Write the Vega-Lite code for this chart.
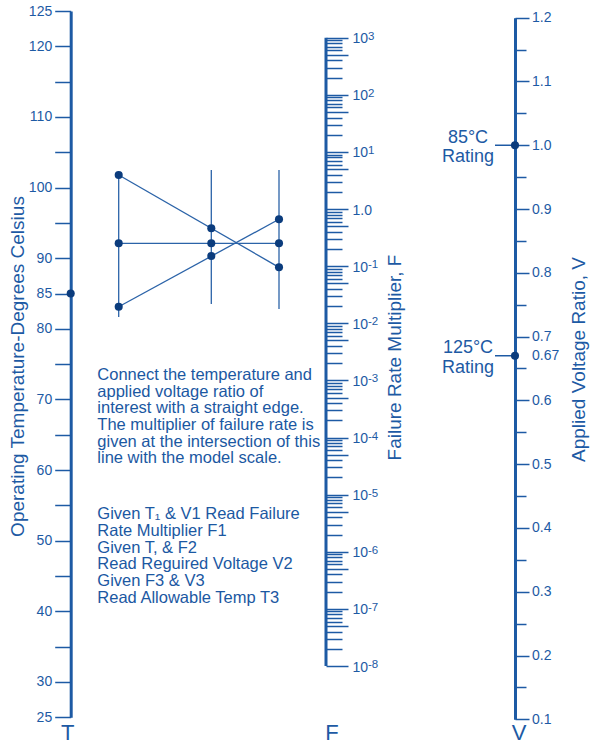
{
  "$schema": "https://vega.github.io/schema/vega-lite/v6.json",
  "width": 590,
  "height": 744,
  "autosize": {"type": "none"},
  "padding": 0,
  "background": "white",
  "config": {
    "view": {"stroke": null},
    "font": "Liberation Sans",
    "axis": {
      "grid": false,
      "labelFont": "Liberation Sans",
      "titleFont": "Liberation Sans",
      "labelFontSize": 14,
      "labelColor": "#1d5aa4",
      "tickColor": "#1d5aa4",
      "domainColor": "#1d5aa4",
      "titleColor": "#1d5aa4",
      "titleFontWeight": "normal",
      "titleFontSize": 19,
      "tickWidth": 1.5,
      "domainWidth": 3,
      "labelOverlap": false,
      "labelFlush": false,
      "labelBound": false
    }
  },
  "encoding": {
    "x": {"field": "x", "type": "quantitative", "scale": {"domain": [0, 590], "nice": false, "zero": false}, "axis": null}
  },
  "layer": [
    {
      "data": {"values": [{"x": 70.7, "t": 85}]},
      "mark": {"type": "point", "filled": true, "size": 65, "color": "#0b3c7d", "opacity": 1},
      "encoding": {
        "y": {
          "field": "t", "type": "quantitative",
          "scale": {"type": "linear", "domain": [25, 125], "range": [717.3, 11], "nice": false, "zero": false},
          "axis": {
            "orient": "left", "offset": -70.7,
            "values": [25, 30, 35, 40, 45, 50, 55, 60, 65, 70, 75, 80, 85, 90, 95, 100, 105, 110, 115, 120, 125],
            "labelExpr": "indexof([125,120,110,100,90,85,80,70,60,50,40,30,25], datum.value) >= 0 ? datum.label : ''",
            "tickSize": 16, "labelPadding": 3,
            "title": "Operating Temperature-Degrees Celsius",
            "titleAngle": 270, "titleX": -46.7, "titleY": 366,
            "titleAlign": "center", "titleBaseline": "alphabetic"
          }
        }
      }
    },
    {
      "data": {"values": [
        {"x": 118.7, "x2": 118.7, "t": 101.78, "t2": 81.68},
        {"x": 211.3, "x2": 211.3, "t": 102.49, "t2": 83.52},
        {"x": 279, "x2": 279, "t": 102.49, "t2": 82.81},
        {"x": 118.7, "x2": 279, "t": 101.78, "t2": 88.71},
        {"x": 118.7, "x2": 279, "t": 92.11, "t2": 92.11},
        {"x": 118.7, "x2": 279, "t": 83.13, "t2": 95.51}
      ]},
      "mark": {"type": "rule", "strokeWidth": 1.3, "color": "#2b63a8"},
      "encoding": {
        "x2": {"field": "x2"},
        "y": {"field": "t", "type": "quantitative", "scale": {"type": "linear", "domain": [25, 125], "range": [717.3, 11], "nice": false, "zero": false}, "axis": null},
        "y2": {"field": "t2"}
      }
    },
    {
      "data": {"values": [
        {"x": 118.7, "t": 101.78}, {"x": 118.7, "t": 92.11}, {"x": 118.7, "t": 83.13},
        {"x": 211.3, "t": 94.23}, {"x": 211.3, "t": 92.11}, {"x": 211.3, "t": 90.31},
        {"x": 279, "t": 95.51}, {"x": 279, "t": 92.11}, {"x": 279, "t": 88.71}
      ]},
      "mark": {"type": "point", "filled": true, "size": 65, "color": "#0b3c7d", "opacity": 1},
      "encoding": {
        "y": {"field": "t", "type": "quantitative", "scale": {"type": "linear", "domain": [25, 125], "range": [717.3, 11], "nice": false, "zero": false}, "axis": null}
      }
    },
    {
      "data": {"values": [
        {"x": 97.3, "t": 72.756, "text": "Connect the temperature and"},
        {"x": 97.3, "t": 70.392, "text": "applied voltage ratio of"},
        {"x": 97.3, "t": 68.041, "text": "interest with a straight edge."},
        {"x": 97.3, "t": 65.677, "text": "The multiplier of failure rate is"},
        {"x": 97.3, "t": 63.312, "text": "given at the intersection of this"},
        {"x": 97.3, "t": 60.962, "text": "line with the model scale."},
        {"x": 97.3, "t": 53.033, "text": "Given T₁ & V1 Read Failure"},
        {"x": 97.3, "t": 50.669, "text": "Rate Multiplier F1"},
        {"x": 97.3, "t": 48.305, "text": "Given T, & F2"},
        {"x": 97.3, "t": 45.954, "text": "Read Reguired Voltage V2"},
        {"x": 97.3, "t": 43.59, "text": "Given F3 & V3"},
        {"x": 97.3, "t": 41.225, "text": "Read Allowable Temp T3"}
      ]},
      "mark": {"type": "text", "align": "left", "baseline": "alphabetic", "fontSize": 16.5, "font": "Liberation Sans", "color": "#1b58a2"},
      "encoding": {
        "y": {"field": "t", "type": "quantitative", "scale": {"type": "linear", "domain": [25, 125], "range": [717.3, 11], "nice": false, "zero": false}, "axis": null},
        "text": {"field": "text"}
      }
    },
    {
      "data": {"values": [
        {"x": 67.7, "t": 21.85, "text": "T"},
        {"x": 332, "t": 21.85, "text": "F"},
        {"x": 519, "t": 21.85, "text": "V"}
      ]},
      "mark": {"type": "text", "align": "center", "baseline": "alphabetic", "fontSize": 22, "font": "Liberation Sans", "color": "#1d5aa4"},
      "encoding": {
        "y": {"field": "t", "type": "quantitative", "scale": {"type": "linear", "domain": [25, 125], "range": [717.3, 11], "nice": false, "zero": false}, "axis": null},
        "text": {"field": "text"}
      }
    },
    {
      "data": {"values": [{"x": 326, "f": 1e-8, "f2": 1000}]},
      "mark": {"type": "rule", "strokeWidth": 3, "color": "#1d5aa4"},
      "encoding": {
        "y": {
          "field": "f", "type": "quantitative",
          "scale": {"type": "log", "domain": [1e-8, 1000], "range": [666, 37.7], "nice": false},
          "axis": {
            "orient": "right", "offset": -264,
            "values": [2e-8, 3e-8, 4e-8, 6e-8, 7e-8, 8e-8, 9e-8,
                       2e-7, 3e-7, 4e-7, 6e-7, 7e-7, 8e-7, 9e-7,
                       2e-6, 3e-6, 4e-6, 6e-6, 7e-6, 8e-6, 9e-6,
                       2e-5, 3e-5, 4e-5, 6e-5, 7e-5, 8e-5, 9e-5,
                       2e-4, 3e-4, 4e-4, 6e-4, 7e-4, 8e-4, 9e-4,
                       2e-3, 3e-3, 4e-3, 6e-3, 7e-3, 8e-3, 9e-3,
                       2e-2, 3e-2, 4e-2, 6e-2, 7e-2, 8e-2, 9e-2,
                       0.2, 0.3, 0.4, 0.6, 0.7, 0.8, 0.9,
                       2, 3, 4, 6, 7, 8, 9,
                       20, 30, 40, 60, 70, 80, 90,
                       200, 300, 400, 600, 700, 800, 900],
            "tickSize": 16, "labels": false, "domain": false,
            "title": "Failure Rate Multiplier, F",
            "titleAngle": 270, "titleX": 74, "titleY": 357,
            "titleAlign": "center", "titleBaseline": "alphabetic"
          }
        },
        "y2": {"field": "f2"}
      }
    },
    {
      "data": {"values": [
        {"x": 368, "f": 1000, "e": "3"},
        {"x": 368, "f": 100, "e": "2"},
        {"x": 368, "f": 10, "e": "1"},
        {"x": 368, "f": 0.1, "e": "-1"},
        {"x": 368, "f": 0.01, "e": "-2"},
        {"x": 368, "f": 0.001, "e": "-3"},
        {"x": 368, "f": 0.0001, "e": "-4"},
        {"x": 368, "f": 1e-5, "e": "-5"},
        {"x": 368, "f": 1e-6, "e": "-6"},
        {"x": 368, "f": 1e-7, "e": "-7"},
        {"x": 368, "f": 1e-8, "e": "-8"}
      ]},
      "mark": {"type": "text", "align": "left", "baseline": "alphabetic", "dy": 2, "fontSize": 11.5, "font": "Liberation Sans", "color": "#1d5aa4"},
      "encoding": {
        "y": {
          "field": "f", "type": "quantitative",
          "scale": {"type": "log", "domain": [1e-8, 1000], "range": [666, 37.7], "nice": false},
          "axis": {
            "orient": "right", "offset": -264,
            "values": [1e-8, 5e-8, 1e-7, 5e-7, 1e-6, 5e-6, 1e-5, 5e-5, 1e-4, 5e-4, 1e-3, 5e-3, 1e-2, 5e-2, 0.1, 0.5, 1, 5, 10, 50, 100, 500, 1000],
            "labelExpr": "abs(datum.value / pow(10, floor(log(datum.value)/LN10 + 1e-9)) - 1) < 1e-6 ? (abs(datum.value - 1) < 1e-9 ? '1.0' : '10') : ''",
            "labelBaseline": "middle", "labelOffset": 1,
            "tickSize": 22, "labelPadding": 4, "domain": false, "title": null
          }
        },
        "text": {"field": "e"}
      }
    },
    {
      "data": {"values": [{"x": 495, "x2": 515, "v": 1.0}, {"x": 495, "x2": 515, "v": 0.67}]},
      "mark": {"type": "rule", "strokeWidth": 1.5, "color": "#1d5aa4"},
      "encoding": {
        "x2": {"field": "x2"},
        "y": {
          "field": "v", "type": "quantitative",
          "scale": {"type": "linear", "domain": [0.1, 1.2], "range": [719.3, 17.7], "nice": false, "zero": false},
          "axis": {
            "orient": "right", "offset": -75,
            "values": [0.15, 0.25, 0.35, 0.45, 0.55, 0.65, 0.75, 0.85, 0.95, 1.05, 1.15],
            "tickSize": 11, "labels": false, "domain": true, "title": null
          }
        }
      }
    },
    {
      "data": {"values": [{"x": 515, "v": 1.0}, {"x": 515, "v": 0.67}]},
      "mark": {"type": "point", "filled": true, "size": 65, "color": "#0b3c7d", "opacity": 1},
      "encoding": {
        "y": {
          "field": "v", "type": "quantitative",
          "scale": {"type": "linear", "domain": [0.1, 1.2], "range": [719.3, 17.7], "nice": false, "zero": false},
          "axis": {
            "orient": "right", "offset": -75,
            "values": [0.1, 0.2, 0.3, 0.4, 0.5, 0.6, 0.7, 0.8, 0.9, 1.0, 1.1, 1.2, 0.67],
            "labelExpr": "abs(datum.value-0.67) < 1e-6 ? '0.67' : format(datum.value, '.1f')",
            "tickOpacity": {"condition": {"test": "abs(datum.value-0.67) < 1e-6", "value": 0}, "value": 1},
            "tickSize": 14, "labelPadding": 2.5, "domain": false,
            "title": "Applied Voltage Ratio, V",
            "titleAngle": 270, "titleX": 69, "titleY": 359,
            "titleAlign": "center", "titleBaseline": "alphabetic"
          }
        }
      }
    },
    {
      "data": {"values": [
        {"x": 468, "v": 1.00307, "text": "85°C"},
        {"x": 468, "v": 0.97328, "text": "Rating"},
        {"x": 468, "v": 0.67382, "text": "125°C"},
        {"x": 468, "v": 0.64246, "text": "Rating"}
      ]},
      "mark": {"type": "text", "align": "center", "baseline": "alphabetic", "fontSize": 18, "font": "Liberation Sans", "color": "#1d5aa4"},
      "encoding": {
        "y": {"field": "v", "type": "quantitative", "scale": {"type": "linear", "domain": [0.1, 1.2], "range": [719.3, 17.7], "nice": false, "zero": false}, "axis": null},
        "text": {"field": "text"}
      }
    }
  ],
  "resolve": {"scale": {"y": "independent"}, "axis": {"y": "independent"}}
}
